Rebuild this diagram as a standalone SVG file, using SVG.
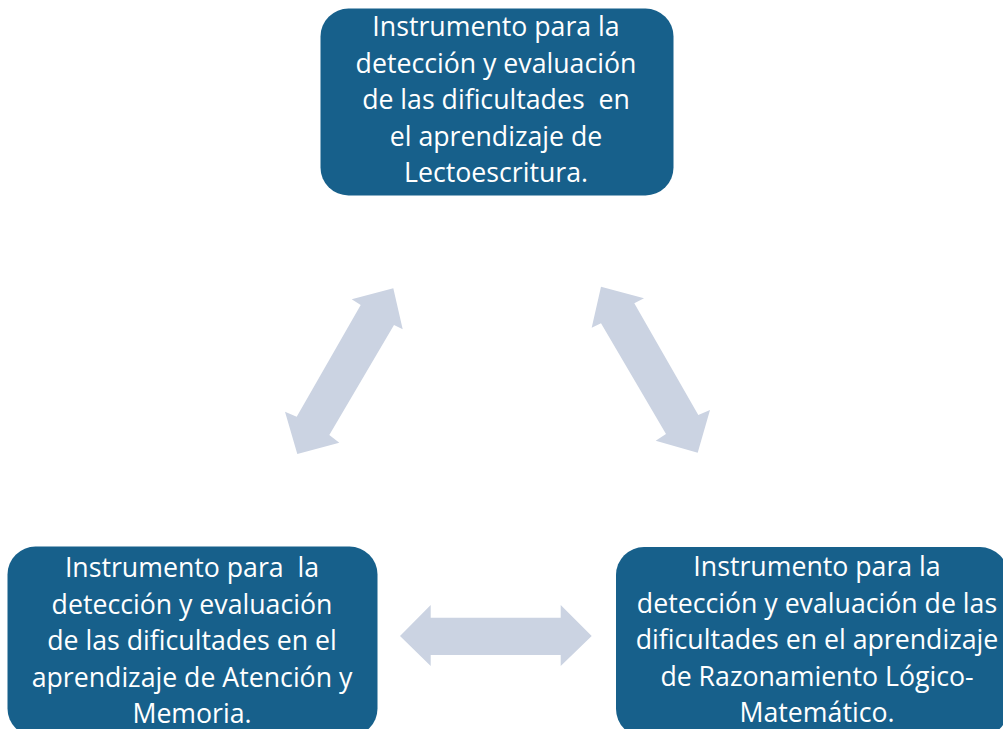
<svg xmlns="http://www.w3.org/2000/svg" width="1003" height="729" viewBox="0 0 1003 729">
<style>
.box{fill:#17608B;}
.lbl{font-family:"Open Sans","Noto Sans",sans-serif;font-size:26.7px;fill:#FFFFFF;text-anchor:middle;}
.arr{fill:#CBD3E2;}
</style>
<rect width="1003" height="729" fill="#FFFFFF"/>
<g id="connectors">
<polygon class="arr" points="393.3,288.3 402.7,329.3 394,325 329.3,435 339.3,442.7 297.3,454 285,411.7 296.7,416.7 360.7,305 351.7,299.3"/>
<polygon class="arr" points="601,286.7 644,298.3 634.3,303.3 698.3,415 710,410 697.7,452.7 655.7,440.7 666,434 601,323.3 591.7,327.7"/>
<polygon class="arr" points="400,636 430.7,605 430.7,617.7 560.7,617.7 560.7,605 591.7,636 560.7,666 560.7,655 430.7,655 430.7,666"/>
</g>
<g id="node-lectoescritura">
<rect class="box" x="320.5" y="8.5" width="353" height="187" rx="28"/>
<text class="lbl" xml:space="preserve"><tspan x="496" y="36">Instrumento para la</tspan><tspan x="496" y="72.5">detección y evaluación</tspan><tspan x="496" y="109">de las dificultades  en</tspan><tspan x="496" y="145.5">el aprendizaje de</tspan><tspan x="496" y="182">Lectoescritura.</tspan></text>
</g>
<g id="node-atencion">
<rect class="box" x="7.5" y="546.5" width="370" height="190" rx="28"/>
<text class="lbl" xml:space="preserve"><tspan x="192" y="577">Instrumento para  la</tspan><tspan x="192" y="613.5">detección y evaluación</tspan><tspan x="192" y="650">de las dificultades en el</tspan><tspan x="192" y="686.5">aprendizaje de Atención y</tspan><tspan x="192" y="723">Memoria.</tspan></text>
</g>
<g id="node-razonamiento">
<rect class="box" x="616" y="547" width="392" height="190" rx="28"/>
<text class="lbl" xml:space="preserve"><tspan x="817" y="576">Instrumento para la</tspan><tspan x="817" y="612.5">detección y evaluación de las</tspan><tspan x="817" y="649">dificultades en el aprendizaje</tspan><tspan x="817" y="685.5">de Razonamiento Lógico-</tspan><tspan x="817" y="722">Matemático.</tspan></text>
</g>
</svg>
